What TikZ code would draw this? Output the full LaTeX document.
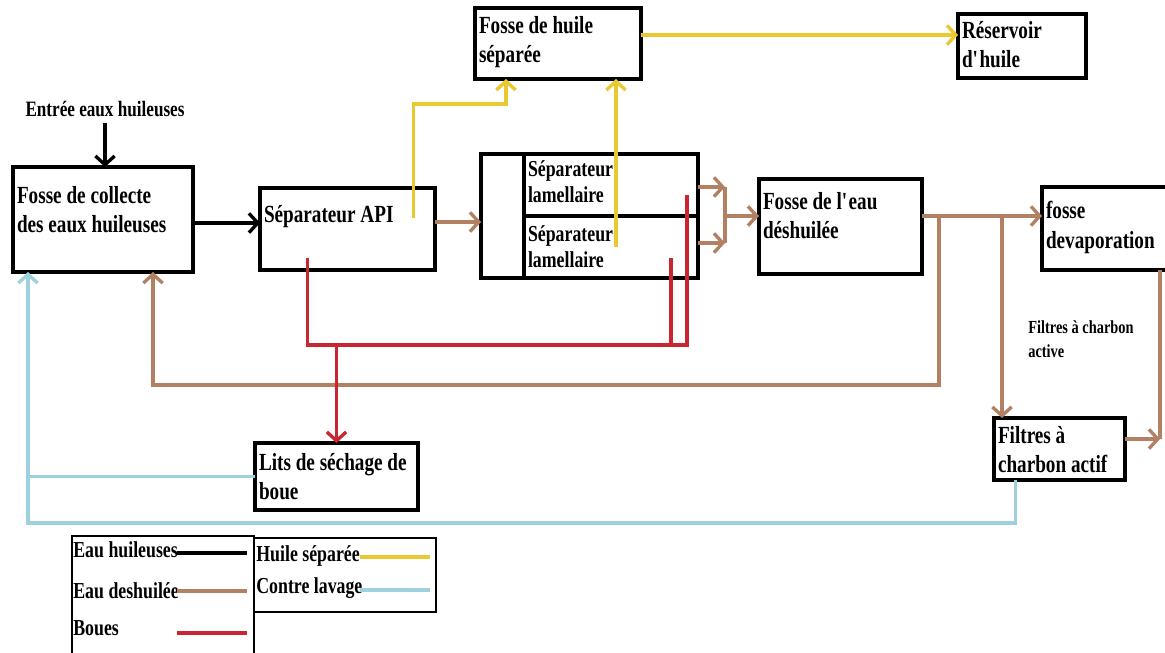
\documentclass[tikz,border=0pt]{standalone}
\usepackage{fontspec}
\setmainfont{Liberation Serif}[FakeStretch=0.78]
\usepackage{xcolor}
\usetikzlibrary{arrows.meta, positioning}

\newlength\pxu
\setlength\pxu{0.02cm}
% box text: width, height, top gap, lines
\newcommand{\boxtext}[4]{\parbox[t][#2\pxu][t]{#1\pxu}{\vspace*{#3\pxu}#4}}

\definecolor{watbrown}{RGB}{178,128,98}
\definecolor{sludred}{RGB}{200,38,48}
\definecolor{oilyel}{RGB}{234,200,48}
\definecolor{washblue}{RGB}{158,208,222}

\begin{document}
\begin{tikzpicture}[x=0.02cm, y=-0.02cm,
  font=\bfseries\fontsize{14}{17}\selectfont,
  box/.style={draw, line width=2pt, anchor=north west, inner sep=4\pxu, outer sep=0pt},
  legbox/.style={draw, line width=0.7pt, anchor=north west, inner sep=0pt, outer sep=0pt},
  legtxt/.style={anchor=west, inner sep=0pt, font=\bfseries\fontsize{13}{15}\selectfont},
  lamfont/.style={font=\bfseries\fontsize{13}{14.7}\selectfont},
  flow/.style={line width=1.9pt},
  arr/.style={flow, -{Straight Barb[length=5pt,width=11pt]}}
]
\useasboundingbox (0,0) rectangle (1165,652);
\clip (0,0) rectangle (1165,652);

%% Tanks and units
\node[box] (coll)  at (13,167)  {\boxtext{172}{97}{15}{Fosse de collecte\\des eaux huileuses}};
\node[box] (api)   at (260,188) {\boxtext{167}{74}{13}{Séparateur API}};
\node[box] (huile) at (475,8)   {\boxtext{158}{63}{4}{Fosse de huile\\séparée}};
\node[box] (res)   at (958,14)  {\boxtext{120}{56}{3}{Réservoir\\d\textquotesingle huile}};
\node[box, inner sep=0pt, minimum width=217\pxu, minimum height=124\pxu] (lam) at (481,154) {};
\node[box, lamfont] (lamA) at (524,154) {\boxtext{166}{54}{3}{Séparateur\\lamellaire}};
\node[box, lamfont] (lamB) at (524,216) {\boxtext{166}{54}{6}{Séparateur\\lamellaire}};
\node[box] (eau)   at (759,179) {\boxtext{155}{87}{9}{Fosse de l\textquotesingle eau\\déshuilée}};
\node[box] (devap) at (1042,187) {\boxtext{125}{75}{10}{fosse\\devaporation}};
\node[box] (filt)  at (994,418) {\boxtext{123}{54}{4}{Filtres à\\\mbox{charbon actif}}};
\node[box] (lits)  at (255,443) {\boxtext{155}{59}{6}{\mbox{Lits de séchage de}\\boue}};

\node[font=\bfseries\fontsize{12.5}{14}\selectfont] (entree) at (105,109) {Entrée eaux huileuses};
\node[anchor=north west, inner sep=0pt, align=left,
      font=\bfseries\fontsize{10.5}{14}\selectfont] (fclab) at (1028,320) {Filtres à charbon\\active};

%% Oily water
\draw[arr] (entree.south) -- (entree.south |- coll.north);
\coordinate (ce) at ([yshift=-3.5\pxu]coll.east);
\draw[arr] (ce) -- (ce -| api.west);

%% Separated oil
\draw[arr, oilyel] ([shift={(66,-52)}]api.south) -- ++(0,-114) -| ([xshift=-52\pxu]huile.south);
\coordinate (ly) at ([shift={(5,31)}]lamB.north);
\draw[arr, oilyel] (ly) -- (ly |- huile.south);
\coordinate (he) at ([yshift=8.5\pxu]huile.east);
\draw[arr, oilyel] (he) -- (he -| res.west);

%% De-oiled water
\coordinate (ae) at ([yshift=7\pxu]api.east);
\draw[arr, watbrown] (ae) -- (ae -| lam.west);
\draw[arr, watbrown] ([yshift=29\pxu]lam.east) -- ++(27,0);
\draw[arr, watbrown] ([yshift=-27\pxu]lam.east) -- ++(27,0);
\draw[flow, watbrown] ([shift={(27,-29)}]lam.east) -- ++(0,56);
\coordinate (jn) at ([xshift=27\pxu]lam.east);
\draw[arr, watbrown] (jn) -- (jn -| eau.west);
\coordinate (eo) at ([yshift=10.5\pxu]eau.east);
\draw[arr, watbrown] (eo) -- (eo -| devap.west);
\draw[arr, watbrown] ([xshift=17\pxu]eo) -- ++(0,169) -| ([xshift=50\pxu]coll.south);
\coordinate (fb) at ([xshift=80\pxu]eo);
\draw[arr, watbrown] (fb) -- (fb |- filt.north);
\coordinate (dv) at ([xshift=-15\pxu]devap.south east);
\coordinate (fe) at ([yshift=10\pxu]filt.east);
\draw[flow, watbrown] (dv) -- (dv |- fe);
\draw[arr, watbrown] (fe) -- (fe -| dv);

%% Sludge
\coordinate (rh) at ([shift={(-40,75)}]api.south);
\draw[flow, sludred] ([shift={(-40,-12)}]api.south) -- (rh) -| ([shift={(-11,-21)}]lamA.south east);
\draw[flow, sludred] ([shift={(-27,-20)}]lamB.south east) -- ++(0,87);
\draw[arr, sludred] (lits.north |- rh) -- (lits.north);

%% Backwash
\coordinate (bu) at ([xshift=15\pxu]coll.south west);
\draw[flow, washblue] (lits.west) -- (bu |- lits.west);
\draw[arr, washblue] ([xshift=-44\pxu]filt.south) -- ++(0,43) -| (bu);

%% Legend
\node[legbox, minimum width=182\pxu, minimum height=130\pxu] (legA) at (72,536) {};
\node[legbox, minimum width=182\pxu, minimum height=74\pxu]  (legB) at (254,538) {};
\node[legtxt] (tEH) at (73,550) {Eau huileuses};
\node[legtxt] (tED) at (73,591) {Eau deshuilée};
\node[legtxt] (tBO) at (73,628) {Boues};
\node[legtxt] (tHS) at (256,556) {Huile séparée};
\node[legtxt] (tCL) at (256,588) {Contre lavage};
\coordinate (lx) at ([xshift=-77\pxu]legA.north east);
\coordinate (rx) at ([xshift=-76\pxu]legB.north east);
\draw[flow] ([yshift=-3\pxu]lx |- tEH) -- ++(70,0);
\draw[flow, watbrown] (lx |- tED) -- ++(70,0);
\draw[flow, sludred] ([yshift=-5\pxu]lx |- tBO) -- ++(70,0);
\draw[flow, oilyel] ([yshift=-1\pxu]rx |- tHS) -- ++(70,0);
\draw[flow, washblue] ([yshift=-2\pxu]rx |- tCL) -- ++(70,0);
\end{tikzpicture}
\end{document}
